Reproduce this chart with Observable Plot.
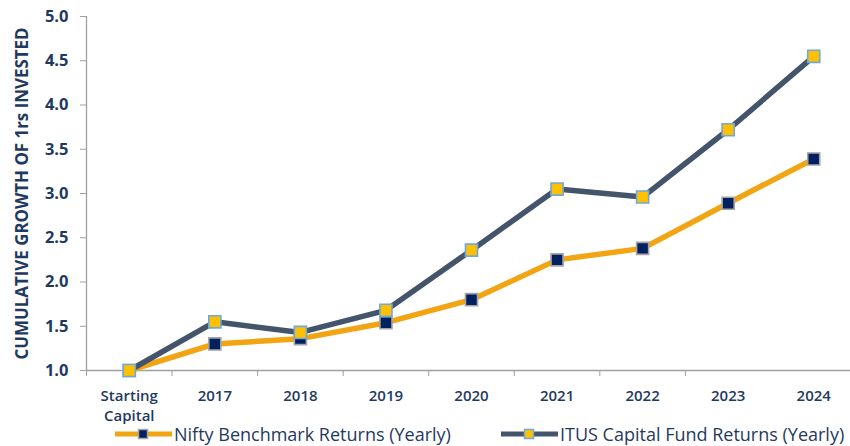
<!DOCTYPE html>
<html>
<head>
<meta charset="utf-8">
<script src="https://cdn.jsdelivr.net/npm/d3@7"></script>
<script src="https://cdn.jsdelivr.net/npm/@observablehq/plot@0.6"></script>
<style>
  html, body { margin: 0; padding: 0; background: #fff; }
  body { width: 850px; height: 446px; overflow: hidden; font-family: "Open Sans", sans-serif; }
  #chart svg { overflow: visible; }
  #legend { height: 26px; position: relative; font-family: "Open Sans", sans-serif; font-size: 18px; color: #1F3A60; }
  .item { position: absolute; top: 1px; display: flex; align-items: center; height: 26px; }
  .item svg { display: block; margin-right: 2px; }
</style>
</head>
<body>
<div id="chart"></div>
<div id="legend"></div>
<script>
const categories = ["Starting Capital", "2017", "2018", "2019", "2020", "2021", "2022", "2023", "2024"];
const niftyValues = [1.00, 1.30, 1.36, 1.54, 1.80, 2.25, 2.38, 2.89, 3.39];
const itusValues  = [1.00, 1.55, 1.43, 1.68, 2.36, 3.05, 2.96, 3.72, 4.55];
const yTicks = [1.0, 1.5, 2.0, 2.5, 3.0, 3.5, 4.0, 4.5, 5.0];
const seriesNames = ["Nifty Benchmark Returns (Yearly)", "ITUS Capital Fund Returns (Yearly)"];
const yLabel = "CUMULATIVE GROWTH OF 1rs INVESTED";

const navyText = "#1F3A60";
const axisGray = "#A0A0A0";
const niftyLine = "#F2A413";
const niftyMarkFill = "#002060";
const niftyMarkStroke = "#A5A5A5";
const itusLine = "#44546A";
const itusMarkFill = "#FFC000";
const itusMarkStroke = "#6FA8DC";

const nifty = categories.map((c, i) => ({i, cat: c, value: niftyValues[i]}));
const itus = categories.map((c, i) => ({i, cat: c, value: itusValues[i]}));
const boundaries = categories.slice(0, -1).map((c, i) => i - 0.5);
const centers = categories.map((c, i) => i);

const chart = Plot.plot({
  width: 850,
  height: 420,
  marginLeft: 86,
  marginRight: 0,
  marginTop: 16,
  marginBottom: 50,
  style: {fontFamily: "Open Sans, sans-serif", color: navyText, background: "#fff"},
  x: {type: "linear", domain: [-0.5, categories.length - 0.5], range: [86, 856], axis: null},
  y: {domain: [1, 5], axis: null},
  marks: [
    Plot.ruleY([1], {stroke: axisGray, strokeWidth: 1.3}),
    Plot.ruleX([-0.5], {y1: 1, y2: 5, stroke: axisGray, strokeWidth: 1.3}),
    Plot.axisY({ticks: yTicks, tickSize: 6, tickPadding: 12, tickFormat: d => d.toFixed(1),
      stroke: axisGray, fill: navyText, fontSize: 16.5, fontWeight: 700, label: null}),
    Plot.axisX({ticks: boundaries, tickSize: 6, tickFormat: () => "", stroke: axisGray, label: null}),
    Plot.axisX({ticks: centers, tickSize: 0, tickPadding: 16, lineHeight: 1.33,
      tickFormat: i => categories[i].replace(" ", "\n"), fill: navyText, fontSize: 15, fontWeight: 600, label: null}),
    Plot.text([yLabel], {frameAnchor: "left", textAnchor: "middle", lineAnchor: "middle", rotate: -90, dx: -64, dy: 0,
      fill: navyText, fontSize: 16.9, fontWeight: 700, text: d => d}),
    Plot.line(nifty, {x: "i", y: "value", stroke: niftyLine, strokeWidth: 5.5}),
    Plot.dot(nifty, {x: "i", y: "value", symbol: "square", r: 6.8, fill: niftyMarkFill, stroke: niftyMarkStroke, strokeWidth: 1.6}),
    Plot.line(itus, {x: "i", y: "value", stroke: itusLine, strokeWidth: 5.5}),
    Plot.dot(itus, {x: "i", y: "value", symbol: "square", r: 6.8, fill: itusMarkFill, stroke: itusMarkStroke, strokeWidth: 1.6})
  ]
});
document.getElementById("chart").appendChild(chart);

// legend
const legend = document.getElementById("legend");
const legendDefs = [
  {name: seriesNames[0], line: niftyLine, fill: niftyMarkFill, stroke: niftyMarkStroke, left: 115},
  {name: seriesNames[1], line: itusLine, fill: itusMarkFill, stroke: itusMarkStroke, left: 501}
];
for (const d of legendDefs) {
  const item = document.createElement("div");
  item.className = "item";
  item.style.left = d.left + "px";
  item.innerHTML = `<svg width="57" height="14" viewBox="0 0 57 14">
    <line x1="0" y1="7" x2="57" y2="7" stroke="${d.line}" stroke-width="5"/>
    <rect x="23.5" y="2.5" width="9" height="9" fill="${d.fill}" stroke="${d.stroke}" stroke-width="1.5"/>
  </svg><span>${d.name}</span>`;
  legend.appendChild(item);
}
</script>
</body>
</html>
